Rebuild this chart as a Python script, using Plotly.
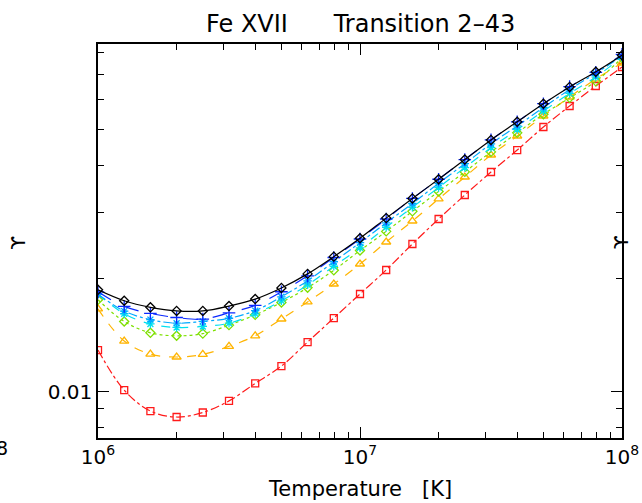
import plotly.graph_objects as go

# Temperatures: log10 T from 6.0 to 8.0 in steps of 0.1
log_t = [6.0, 6.1, 6.2, 6.3, 6.4, 6.5, 6.6, 6.7, 6.8, 6.9, 7.0,
         7.1, 7.2, 7.3, 7.4, 7.5, 7.6, 7.7, 7.8, 7.9, 8.0]
temperature = [10 ** v for v in log_t]

# Effective collision strengths (Upsilon) for each curve
ups_black = [0.01867, 0.01746, 0.01677, 0.01640, 0.01640, 0.01690, 0.01764,
             0.01889, 0.02059, 0.02289, 0.02563, 0.02900, 0.03272, 0.03681,
             0.04154, 0.04687, 0.05238, 0.05854, 0.06490, 0.07120, 0.07884]
ups_blue = [0.01844, 0.01686, 0.01615, 0.01575, 0.01560, 0.01621, 0.01697,
            0.01845, 0.02034, 0.02277, 0.02551, 0.02884, 0.03272, 0.03681,
            0.04154, 0.04687, 0.05238, 0.05854, 0.06500, 0.07100, 0.07926]
ups_sky = [0.01818, 0.01638, 0.01555, 0.01521, 0.01538, 0.01568, 0.01643,
           0.01789, 0.01973, 0.02218, 0.02495, 0.02817, 0.03172, 0.03592,
           0.04050, 0.04577, 0.05110, 0.05720, 0.06386, 0.07058, 0.07840]
ups_cyan = [0.01818, 0.01612, 0.01514, 0.01482, 0.01491, 0.01521, 0.01611,
            0.01745, 0.01925, 0.02158, 0.02417, 0.02742, 0.03099, 0.03500,
            0.03956, 0.04470, 0.04992, 0.05596, 0.06238, 0.06895, 0.07797]
ups_green = [0.01756, 0.01537, 0.01434, 0.01408, 0.01427, 0.01503, 0.01601,
             0.01728, 0.01892, 0.02105, 0.02377, 0.02673, 0.03023, 0.03416,
             0.03852, 0.04355, 0.04895, 0.05487, 0.06068, 0.06715, 0.07755]
ups_orange = [0.01661, 0.01363, 0.01258, 0.01236, 0.01256, 0.01320, 0.01408,
              0.01561, 0.01733, 0.01935, 0.02188, 0.02504, 0.02849, 0.03262,
              0.03733, 0.04272, 0.04801, 0.05429, 0.06101, 0.06813, 0.07516]
ups_red = [0.01290, 0.01008, 0.00887, 0.00855, 0.00879, 0.00944, 0.01051,
           0.01169, 0.01355, 0.01570, 0.01820, 0.02109, 0.02474, 0.02884,
           0.03342, 0.03849, 0.04405, 0.05074, 0.05772, 0.06526, 0.07334]

series = [
    (ups_red, "#ff1a1a", "dashdot", "square-open", 7),
    (ups_orange, "#ffb400", "dash", "triangle-up-open", 8),
    (ups_green, "#7ee000", "dot", "diamond-open", 7),
    (ups_cyan, "#00e0f0", "dash", "asterisk-open", 7),
    (ups_sky, "#00a8ff", "dashdot", "asterisk-open", 7),
    (ups_blue, "#0a28ff", "longdash", "cross-thin-open", 9),
    (ups_black, "#000000", "solid", "diamond-open", 7),
]

fig = go.Figure()
for ups, color, dash, symbol, size in series:
    fig.add_trace(go.Scatter(
        x=temperature, y=ups, mode="lines",
        line=dict(color=color, dash=dash, width=1.2, shape="spline"),
        hoverinfo="skip", showlegend=False,
    ))
    fig.add_trace(go.Scatter(
        x=temperature, y=ups, mode="markers",
        marker=dict(symbol=symbol, size=size, color=color,
                    line=dict(color=color, width=1.3)),
        showlegend=False,
    ))

font_family = "DejaVu Sans"

axis_common = dict(
    type="log",
    ticks="inside", ticklen=11, tickwidth=1, tickcolor="black",
    minor=dict(ticks="inside", ticklen=6, tickcolor="black",
               dtick="D1", showgrid=False),
    showline=True, linecolor="black", linewidth=1.5,
    mirror="allticks", showgrid=False, zeroline=False,
    automargin=False,
    tickfont=dict(size=20, family=font_family),
)

fig.update_layout(
    width=642, height=503,
    margin=dict(l=98, r=20, t=44, b=65),
    paper_bgcolor="white", plot_bgcolor="white",
    font=dict(family=font_family, color="black", size=19),
    xaxis=dict(
        axis_common, range=[6, 8],
        tickvals=[1e6, 1e7, 1e8],
        ticktext=["10<sup>6</sup>", "10<sup>7</sup>", "10<sup>8</sup>"],
    ),
    yaxis=dict(
        axis_common, range=[-2.124, -1.0733],
        tickvals=[0.01], ticktext=["0.01"],
    ),
    annotations=[
        dict(text="Fe XVII      Transition 2\u201343", xref="paper", yref="paper",
             x=0.5, y=1.052, xanchor="center", yanchor="middle",
             showarrow=False, font=dict(size=24)),
        dict(text="Temperature   [K]", xref="paper", yref="paper",
             x=0.5, y=-0.13, xanchor="center", yanchor="middle",
             showarrow=False, font=dict(size=21)),
        dict(text="\u03d2", xref="paper", yref="paper",
             x=-0.153, y=0.495, xanchor="center", yanchor="middle",
             textangle=-90, showarrow=False, font=dict(size=20)),
        dict(text="\u03d2", xref="paper", yref="paper",
             x=0.998, y=0.497, xanchor="center", yanchor="middle",
             textangle=-90, showarrow=False, font=dict(size=20)),
        dict(text="8", xref="paper", yref="paper",
             x=-0.184, y=-0.026, xanchor="center", yanchor="middle",
             showarrow=False, font=dict(size=19)),
    ],
)

fig.write_html("out.html")
